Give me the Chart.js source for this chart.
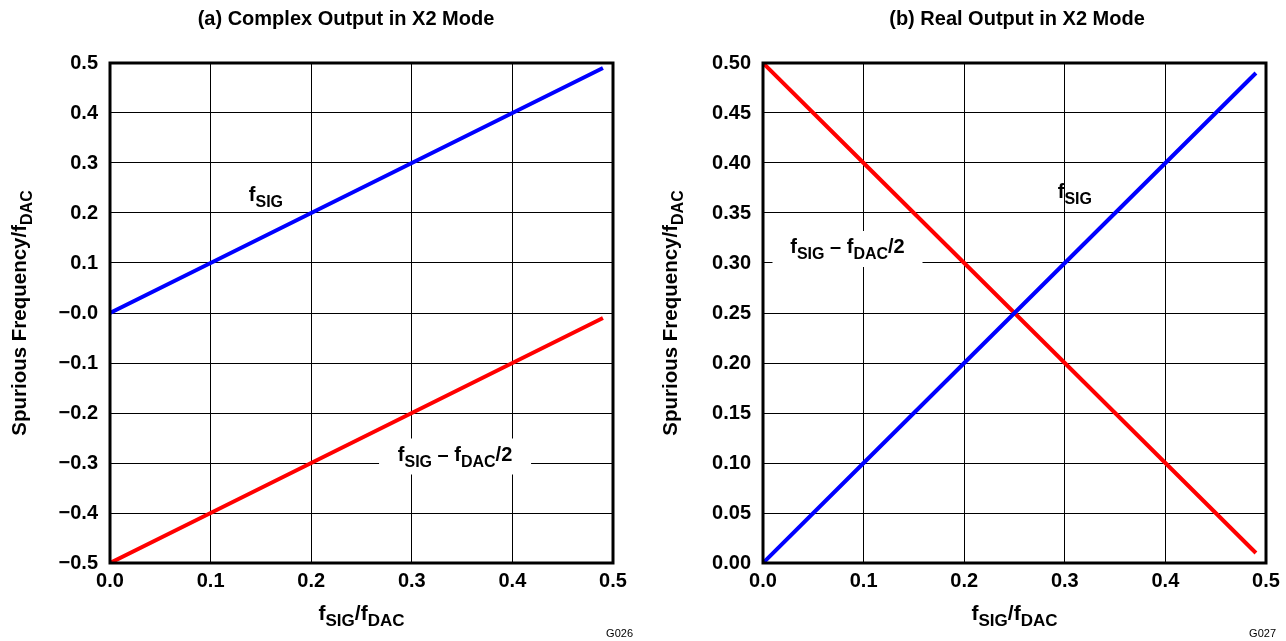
<!DOCTYPE html>
<html>
<head>
<meta charset="utf-8">
<script src="https://cdn.jsdelivr.net/npm/chart.js@4.4.0/dist/chart.umd.min.js"></script>
<style>
  body { margin: 0; background: #fff; }
  .box { position: absolute; top: 0; width: 643px; height: 641px; }
  #boxA { left: 0; }
  #boxB { left: 643px; }
</style>
</head>
<body>
<div class="box" id="boxA"><canvas id="graficoA"></canvas></div>
<div class="box" id="boxB"><canvas id="graficoB"></canvas></div>
<script>
// dados
const xSinal = [0.0, 0.1, 0.2, 0.3, 0.4, 0.49];
const complexoSig = [0.0, 0.1, 0.2, 0.3, 0.4, 0.49];
const complexoImg = [-0.5, -0.4, -0.3, -0.2, -0.1, -0.01];
const realSig = [0.0, 0.1, 0.2, 0.3, 0.4, 0.49];
const realImg = [0.5, 0.4, 0.3, 0.2, 0.1, 0.01];

const ticksX = ['0.0', '0.1', '0.2', '0.3', '0.4', '0.5'];
const ticksYA = ['\u22120.5', '\u22120.4', '\u22120.3', '\u22120.2', '\u22120.1', '\u22120.0', '0.1', '0.2', '0.3', '0.4', '0.5'];
const ticksYB = ['0.00', '0.05', '0.10', '0.15', '0.20', '0.25', '0.30', '0.35', '0.40', '0.45', '0.50'];

const FONTE = 'Liberation Sans, Arial, sans-serif';

function pontos(xs, ys) {
  return xs.map((x, i) => ({ x: x, y: ys[i] }));
}

// desenha texto com partes subscritas
function textoSub(ctx, partes, x, y, tam) {
  const fN = 'bold ' + tam + 'px ' + FONTE;
  const fS = 'bold ' + Math.round(tam * 0.8) + 'px ' + FONTE;
  let total = 0;
  partes.forEach(p => { ctx.font = p[1] ? fS : fN; total += ctx.measureText(p[0]).width; });
  let cx = x - total / 2;
  ctx.textAlign = 'left';
  ctx.textBaseline = 'alphabetic';
  partes.forEach(p => {
    ctx.font = p[1] ? fS : fN;
    ctx.fillText(p[0], cx, y + (p[1] ? Math.round(tam * 0.3) : 0));
    cx += ctx.measureText(p[0]).width;
  });
  return total;
}

const pluginTextos = {
  id: 'textos',
  afterDraw(chart, args, opts) {
    const ctx = chart.ctx;
    const a = chart.chartArea;
    const sx = chart.scales.x, sy = chart.scales.y;
    ctx.save();
    // borda grossa
    ctx.strokeStyle = '#000';
    ctx.lineWidth = 3;
    ctx.strokeRect(a.left, a.top, a.right - a.left, a.bottom - a.top);
    ctx.fillStyle = '#000';
    // título
    ctx.font = 'bold 20px ' + FONTE;
    ctx.textAlign = 'center';
    ctx.textBaseline = 'alphabetic';
    ctx.fillText(opts.titulo, opts.tituloX, 25);
    // título do eixo x
    textoSub(ctx, [['f', 0], ['SIG', 1], ['/f', 0], ['DAC', 1]], (a.left + a.right) / 2, 620, 21);
    // título do eixo y
    ctx.save();
    ctx.translate(opts.eixoYX, (a.top + a.bottom) / 2);
    ctx.rotate(-Math.PI / 2);
    textoSub(ctx, [['Spurious Frequency/f', 0], ['DAC', 1]], 0, 0, 20.5);
    ctx.restore();
    // rótulos das curvas
    opts.rotulos.forEach(r => {
      const px = sx.getPixelForValue(r.x), py = sy.getPixelForValue(r.y);
      if (r.caixa) {
        ctx.fillStyle = '#fff';
        ctx.fillRect(px - r.caixa / 2, py - 22, r.caixa, 36);
        ctx.fillStyle = '#000';
      }
      textoSub(ctx, r.partes, px, py, 20);
    });
    // código da figura
    ctx.font = '11px ' + FONTE;
    ctx.textAlign = 'right';
    ctx.fillText(opts.codigo, chart.width - 10, 637);
    ctx.restore();
  }
};

function criarGrafico(id, dadosAzul, dadosVermelho, minY, maxY, passoY, rotulosY, opts) {
  return new Chart(document.getElementById(id), {
    type: 'line',
    data: {
      datasets: [
        { data: pontos(xSinal, dadosAzul), borderColor: '#0000ff', borderWidth: 4, pointRadius: 0, fill: false },
        { data: pontos(xSinal, dadosVermelho), borderColor: '#ff0000', borderWidth: 4, pointRadius: 0, fill: false }
      ]
    },
    options: {
      responsive: true,
      maintainAspectRatio: false,
      animation: false,
      layout: { padding: { left: 0, right: opts.padDir, top: 63, bottom: 0 } },
      plugins: { legend: { display: false }, tooltip: { enabled: false }, textos: opts },
      scales: {
        x: {
          type: 'linear', min: 0, max: 0.5,
          afterBuildTicks: s => { s.ticks = ticksX.map((t, i) => ({ value: i * 0.1 })); },
          ticks: { callback: (v, i) => ticksX[i], color: '#000', font: { family: FONTE, size: 20, weight: 'bold' }, padding: 6, maxRotation: 0 },
          grid: { color: '#000', lineWidth: 1, drawTicks: false },
          border: { display: false },
          afterFit: s => { s.height = 78; }
        },
        y: {
          type: 'linear', min: minY, max: maxY,
          afterBuildTicks: s => { s.ticks = rotulosY.map((t, i) => ({ value: minY + i * passoY })); },
          ticks: { callback: (v, i) => rotulosY[i], color: '#000', font: { family: FONTE, size: 20, weight: 'bold' }, padding: 12 },
          grid: { color: '#000', lineWidth: 1, drawTicks: false },
          border: { display: false },
          afterFit: s => { s.width = opts.largY; }
        }
      }
    },
    plugins: [pluginTextos]
  });
}

criarGrafico('graficoA', complexoSig, complexoImg, -0.5, 0.5, 0.1, ticksYA, {
  titulo: '(a) Complex Output in X2 Mode', tituloX: 346, eixoYX: 26, padDir: 30, largY: 110, codigo: 'G026',
  rotulos: [
    { x: 0.155, y: 0.225, partes: [['f', 0], ['SIG', 1]] },
    { x: 0.343, y: -0.295, caixa: 152, partes: [['f', 0], ['SIG', 1], [' \u2013 f', 0], ['DAC', 1], ['/2', 0]] }
  ]
});

criarGrafico('graficoB', realSig, realImg, 0, 0.5, 0.05, ticksYB, {
  titulo: '(b) Real Output in X2 Mode', tituloX: 374, eixoYX: 34, padDir: 20, largY: 120, codigo: 'G027',
  rotulos: [
    { x: 0.31, y: 0.365, partes: [['f', 0], ['SIG', 1]] },
    { x: 0.084, y: 0.31, caixa: 150, partes: [['f', 0], ['SIG', 1], [' \u2013 f', 0], ['DAC', 1], ['/2', 0]] }
  ]
});
</script>
</body>
</html>
